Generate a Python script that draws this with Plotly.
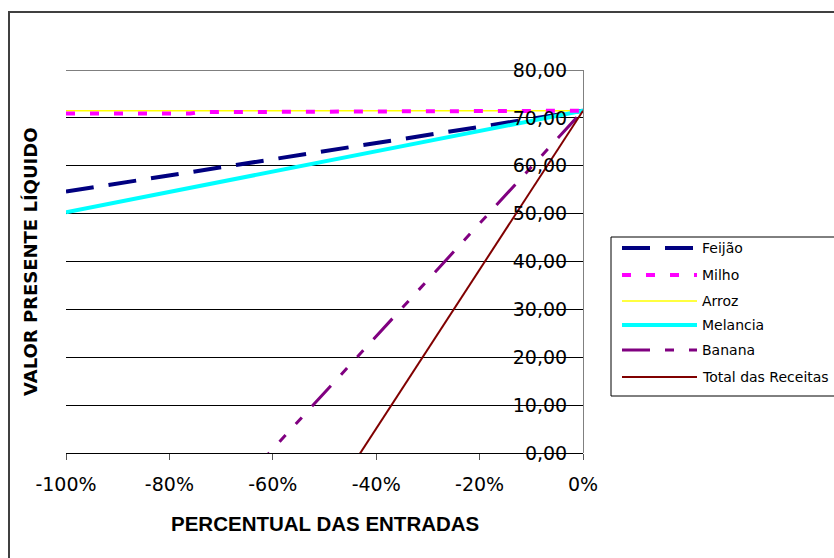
import plotly.graph_objects as go

# ---- data ----
pct = [-100, -90, -80, -70, -60, -50, -40, -30, -20, -10, 0]
feijao = [54.6, 56.3, 58.0, 59.7, 61.4, 63.1, 64.7, 66.4, 68.1, 69.8, 71.5]
milho_pct = [-100, -90, -80, -76, -74, -60, -40, -20, 0]
milho = [70.9, 70.9, 70.9, 70.9, 71.2, 71.25, 71.35, 71.45, 71.5]
arroz = [71.5, 71.5, 71.5, 71.5, 71.5, 71.5, 71.5, 71.5, 71.5, 71.5, 71.5]
melancia = [50.3, 52.4, 54.5, 56.7, 58.8, 60.9, 63.0, 65.2, 67.3, 69.4, 71.5]
banana = [-46.3, -34.5, -22.7, -11.0, 0.8, 12.6, 24.4, 36.2, 47.9, 59.7, 71.5]
total = [-94.5, -77.9, -61.3, -44.7, -28.1, -11.5, 5.1, 21.7, 38.3, 54.9, 71.5]

series_names = ["Feijão", "Milho", "Arroz", "Melancia", "Banana", "Total das Receitas"]
x_tickvals = [-100, -80, -60, -40, -20, 0]
x_ticktext = ["-100%", "-80%", "-60%", "-40%", "-20%", "0%"]
y_tickvals = [0, 10, 20, 30, 40, 50, 60, 70, 80]

styles = [
    dict(color="#000080", width=4, dash="28px,15px"),
    dict(color="#FF00FF", width=4, dash="9px,15px"),
    dict(color="#FFFF00", width=1.5, dash="solid"),
    dict(color="#00FFFF", width=4, dash="solid"),
    dict(color="#800080", width=3, dash="28px,15px,9px,15px,9px,15px"),
    dict(color="#800000", width=2, dash="solid"),
]
xs = [pct, milho_pct, pct, pct, pct, pct]
values = [feijao, milho, arroz, melancia, banana, total]

W, H = 834, 558
L, R, T, B = 66, 583, 70, 453  # plot area in px
pw, ph = R - L, B - T


def px(x):
    return (x - L) / pw


def py(y):
    return (B - y) / ph


ARIAL = "Liberation Sans, Arial, sans-serif"
WIDE = "DejaVu Sans, Verdana, sans-serif"

fig = go.Figure()
# draw Arroz before Milho so the magenta dashes sit on the yellow line
order = [2, 0, 3, 1, 4, 5]
for i in order:
    fig.add_trace(go.Scatter(x=xs[i], y=values[i], mode="lines", name=series_names[i],
                             line=styles[i], showlegend=False, hoverinfo="skip"))

shapes = []
# top gridline (plotly drops gridlines lying on the plot edge)
shapes.append(dict(type="line", xref="paper", yref="y", x0=0, x1=1, y0=80, y1=80,
                   line=dict(color="#000000", width=1), layer="below"))
# chart outer border
shapes.append(dict(type="rect", xref="paper", yref="paper",
                   x0=px(9), x1=px(845), y0=py(12), y1=py(570),
                   line=dict(color="#404040", width=2), fillcolor="rgba(0,0,0,0)", layer="below"))
# legend box
shapes.append(dict(type="rect", xref="paper", yref="paper",
                   x0=px(611), x1=px(845), y0=py(396), y1=py(237),
                   line=dict(color="#000000", width=1), fillcolor="white"))
annotations = []
leg_y = [248, 275, 301, 325, 350, 377]
for i, name in enumerate(series_names):
    st = styles[i]
    shapes.append(dict(type="line", xref="paper", yref="paper",
                       x0=px(622), x1=px(697), y0=py(leg_y[i]), y1=py(leg_y[i]),
                       line=dict(color=st["color"], width=st["width"], dash=st["dash"])))
    annotations.append(dict(xref="paper", yref="paper", x=px(700), y=py(leg_y[i]),
                            xanchor="left", yanchor="middle", showarrow=False, text=name,
                            font=dict(family=WIDE, size=14, color="black")))

annotations.append(dict(xref="paper", yref="paper", x=px(30), y=py(262), textangle=-90,
                        xanchor="center", yanchor="middle", showarrow=False,
                        text="<b>VALOR PRESENTE LÍQUIDO</b>",
                        font=dict(family=WIDE, size=18, color="black")))
annotations.append(dict(xref="paper", yref="paper", x=px(325), y=py(523),
                        xanchor="center", yanchor="middle", showarrow=False,
                        text="<b>PERCENTUAL DAS ENTRADAS</b>",
                        font=dict(family=ARIAL, size=20.5, color="black")))

fig.update_layout(
    width=W, height=H, autosize=False,
    margin=dict(l=L, r=W - R, t=T, b=H - B, pad=0),
    paper_bgcolor="white", plot_bgcolor="white",
    separators=",.",
    showlegend=False,
    shapes=shapes, annotations=annotations,
    font=dict(family=WIDE, size=19, color="black"),
    xaxis=dict(range=[-100, 0], tickvals=x_tickvals, ticktext=x_ticktext,
               showgrid=False, zeroline=False, showline=True, linecolor="#000000", linewidth=1,
               ticks="outside", ticklen=6, tickcolor="#555555", ticklabelstandoff=8,
               tickfont=dict(family=WIDE, size=19, color="black")),
    yaxis=dict(range=[0, 80], tickvals=y_tickvals, tickformat=".2f",
               side="left", anchor="free", position=1.0, ticklabelstandoff=12,
               showgrid=True, gridcolor="#000000", gridwidth=1, zeroline=False,
               showline=True, linecolor="#808080", linewidth=1, ticks="",
               tickfont=dict(family=WIDE, size=19, color="black")),
)

fig.write_html("out.html")
